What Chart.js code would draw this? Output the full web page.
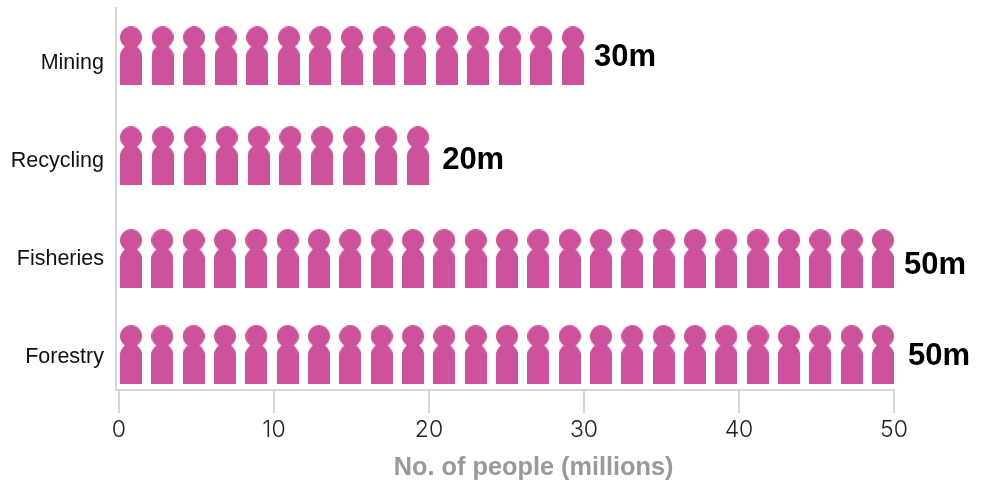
<!DOCTYPE html>
<html>
<head>
<meta charset="utf-8">
<title>No. of people (millions)</title>
<script src="https://cdn.jsdelivr.net/npm/chart.js@4"></script>
<style>
  html, body { margin: 0; padding: 0; background: #fff; }
  canvas { display: block; }
</style>
</head>
<body>
<canvas id="peopleChart" width="984" height="482"></canvas>
<script>
const categories = ['Mining', 'Recycling', 'Fisheries', 'Forestry'];
const peopleMillions = [30, 20, 50, 50];
const rowPositions = [-0.05, 0.97, 2.02, 3.0];
const iconCounts = [15, 10, 25, 25];
const valueLabels = ['30m', '20m', '50m', '50m'];
const valueLabelX = [30.65, 20.85, 50.65, 50.9];
const valueLabelY = [-0.04, 1.02, 2.09, 3.02];
const xTicks = [0, 10, 20, 30, 40, 50];
const axisTitle = 'No. of people (millions)';

const PINK = '#ce529b';
const GRID = '#d6d6d6';
const SANS = '"Liberation Sans", Arial, sans-serif';
const ICON_W = 22;
const ICON_H = 59;
const UNITS_PER_PX = 50 / 775;

// one person, drawn once and reused as the point style
function makePerson() {
  const c = document.createElement('canvas');
  c.width = ICON_W;
  c.height = ICON_H;
  const g = c.getContext('2d');
  g.fillStyle = PINK;
  g.beginPath();
  g.arc(11, 11, 11, 0, Math.PI * 2);
  g.fill();
  g.beginPath();
  g.moveTo(0, ICON_H);
  g.lineTo(0, 29);
  g.bezierCurveTo(0, 25, 3, 22, 6, 19);
  g.lineTo(16, 19);
  g.bezierCurveTo(19, 22, 22, 25, 22, 29);
  g.lineTo(22, ICON_H);
  g.closePath();
  g.fill();
  return c;
}
const person = makePerson();

// icons are spread so the last one ends exactly on the value
function rowPoints(i) {
  const w = ICON_W * UNITS_PER_PX;
  const inset = UNITS_PER_PX;
  const n = iconCounts[i];
  const step = (peopleMillions[i] - w - inset) / (n - 1);
  const pts = [];
  for (let k = 0; k < n; k++) {
    pts.push({ x: inset + w / 2 + k * step, y: rowPositions[i] });
  }
  return pts;
}

const textLabels = {
  id: 'textLabels',
  afterDraw(chart) {
    const { ctx, scales } = chart;
    ctx.save();
    ctx.textBaseline = 'middle';
    ctx.textAlign = 'left';
    ctx.fillStyle = '#000';
    ctx.font = 'bold 31px ' + SANS;
    valueLabels.forEach((t, i) => {
      ctx.fillText(t, scales.x.getPixelForValue(valueLabelX[i]), scales.y.getPixelForValue(valueLabelY[i]));
    });
    ctx.textAlign = 'center';
    ctx.fillStyle = '#999';
    ctx.font = 'bold 25.3px ' + SANS;
    ctx.fillText(axisTitle, scales.x.getPixelForValue(26.75), 468);
    ctx.restore();
  }
};

new Chart(document.getElementById('peopleChart').getContext('2d'), {
  type: 'scatter',
  plugins: [textLabels],
  data: {
    datasets: categories.map((name, i) => ({
      label: name,
      data: rowPoints(i),
      pointStyle: person,
      // radius only has to be non-zero, the image sets the real size
      pointRadius: 1,
      pointHoverRadius: 1,
      clip: false
    }))
  },
  options: {
    responsive: false,
    animation: false,
    layout: { padding: { top: 8, right: 90, bottom: 0, left: 0 } },
    plugins: {
      legend: { display: false },
      tooltip: { enabled: false }
    },
    scales: {
      x: {
        type: 'linear',
        min: -0.19,
        max: 50,
        afterBuildTicks(axis) { axis.ticks = xTicks.map(v => ({ value: v })); },
        afterFit(axis) {
          axis.height = 92;
          axis.paddingLeft = 0;
          axis.paddingRight = 0;
        },
        grid: { drawOnChartArea: false, color: GRID, lineWidth: 2, tickLength: 23 },
        border: { color: GRID, width: 2 },
        ticks: {
          padding: 3,
          maxRotation: 0,
          color: '#222',
          font: { family: 'Inter', size: 23, weight: 300 }
        }
      },
      y: {
        type: 'linear',
        reverse: true,
        min: -0.54,
        max: 3.36,
        afterBuildTicks(axis) { axis.ticks = categories.map((c, i) => ({ value: i })); },
        afterFit(axis) {
          axis.width = 116;
          axis.paddingTop = 0;
          axis.paddingBottom = 0;
        },
        grid: { drawOnChartArea: false, drawTicks: false },
        border: { color: GRID, width: 2 },
        ticks: {
          padding: 12,
          labelOffset: 2,
          color: '#111',
          font: { family: SANS, size: 21.5 },
          callback: v => categories[v]
        }
      }
    }
  }
});
</script>
</body>
</html>
